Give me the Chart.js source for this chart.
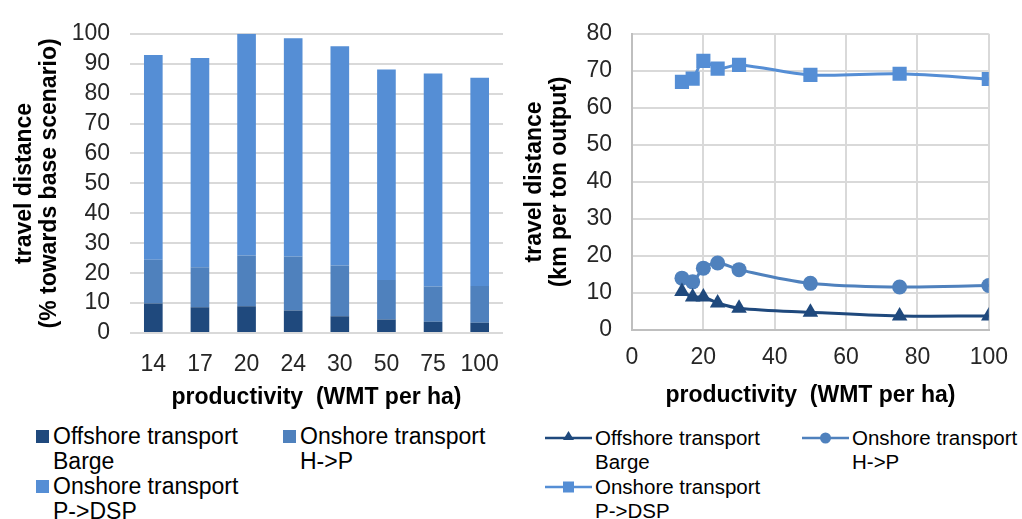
<!DOCTYPE html>
<html>
<head>
<meta charset="utf-8">
<script src="https://cdn.jsdelivr.net/npm/chart.js@4/dist/chart.umd.min.js"></script>
<style>
  body { margin: 0; background: #fff; font-family: "Liberation Sans", Arial, sans-serif; }
  #wrap { position: relative; width: 1022px; height: 519px; overflow: hidden; }
  canvas { position: absolute; top: 0; }
  .legend { position: absolute; display: grid; color: #000; white-space: nowrap; }
  .item { display: flex; align-items: flex-start; }
  #legendLeft { left: 36px; top: 424px; grid-template-columns: 247px 200px; grid-auto-rows: 50px; font-size: 23px; line-height: 25px; }
  #legendLeft .sym { width: 13px; height: 13px; margin: 6px 4px 0 0; flex: none; }
  #legendRight { left: 545px; top: 426px; grid-template-columns: 257px 200px; grid-auto-rows: 49px; font-size: 20.5px; line-height: 24px; }
  #legendRight svg { flex: none; margin-right: 3px; }
</style>
</head>
<body>
<div id="wrap">
  <canvas id="barChart" width="511" height="420" style="left:0"></canvas>
  <canvas id="lineChart" width="511" height="420" style="left:511px"></canvas>
  <div id="legendLeft" class="legend"></div>
  <div id="legendRight" class="legend"></div>
</div>
<script>
// categories / x values
const productivity = ['14', '17', '20', '24', '30', '50', '75', '100'];
const productivityX = [14, 17, 20, 24, 30, 50, 75, 100];

// left chart: % towards base scenario
const offshoreShare = [9.9, 8.6, 8.9, 7.5, 5.6, 4.5, 3.8, 3.4];
const onshoreHPShare = [14.6, 13.4, 17.0, 18.1, 17.0, 13.2, 11.7, 12.3];
const onshorePDShare = [68.4, 69.9, 74.1, 72.9, 73.2, 70.4, 71.2, 69.6];

// right chart: km per ton output
const offshoreKm = [10.4, 8.9, 8.9, 7.3, 5.9, 4.8, 3.8, 3.8];
const onshoreHPKm = [14.0, 13.0, 16.7, 18.1, 16.3, 12.6, 11.6, 12.0];
const onshorePDKm = [67.0, 67.9, 72.7, 70.6, 71.6, 68.9, 69.2, 67.8];

const yTicksLeft = [0, 100, 10];
const yTicksRight = [0, 80, 10];
const xTicksRight = [0, 100, 20];

const seriesNames = [
    ['Offshore transport', 'Barge'],
    ['Onshore transport', 'H->P'],
    ['Onshore transport', 'P->DSP']
];

const colors = ['#1f497d', '#4f81bd', '#558ed5'];
const markers = ['triangle', 'circle', 'rect'];

Chart.defaults.font.family = '"Liberation Sans", Arial, sans-serif';
Chart.defaults.font.size = 23;
Chart.defaults.color = '#262626';

const titleFont = {weight: 'bold', size: 23, lineHeight: 1.1};
const gridStyle = {color: '#d9d9d9', lineWidth: 2, drawTicks: false};

new Chart(document.getElementById('barChart'), {
    type: 'bar',
    data: {
        labels: productivity,
        datasets: [offshoreShare, onshoreHPShare, onshorePDShare].map((d, i) => ({
            label: seriesNames[i].join(' '),
            data: d,
            backgroundColor: colors[i]
        }))
    },
    options: {
        responsive: false,
        animation: false,
        layout: {padding: {top: 28, right: 8, left: 0, bottom: 0}},
        plugins: {legend: {display: false}, tooltip: {enabled: false}},
        datasets: {bar: {categoryPercentage: 1, barPercentage: 0.4}},
        scales: {
            x: {
                stacked: true,
                grid: {display: false},
                border: {display: false},
                ticks: {padding: 10, maxRotation: 0, autoSkip: false},
                title: {display: true, text: 'productivity  (WMT per ha)', color: '#000', font: titleFont, padding: {top: 0, bottom: 10}},
                afterFit: s => { s.height = 87; }
            },
            y: {
                stacked: true,
                min: yTicksLeft[0],
                max: yTicksLeft[1],
                ticks: {stepSize: yTicksLeft[2], padding: 20, autoSkip: false},
                grid: gridStyle,
                border: {display: false},
                title: {display: true, text: ['travel distance', '(% towards base scenario)'], color: '#000', font: titleFont, padding: {top: 12, bottom: 0}},
                afterFit: s => { s.width = 130; }
            }
        }
    }
});

new Chart(document.getElementById('lineChart'), {
    type: 'line',
    data: {
        datasets: [offshoreKm, onshoreHPKm, onshorePDKm].map((d, i) => ({
            label: seriesNames[i].join(' '),
            data: productivityX.map((x, j) => ({x: x, y: d[j]})),
            borderColor: colors[i],
            backgroundColor: colors[i],
            pointStyle: markers[i],
            pointRadius: [9, 7.5, 10][i],
            pointBorderWidth: 0,
            borderWidth: 3,
            tension: 0.35
        }))
    },
    options: {
        responsive: false,
        animation: false,
        layout: {padding: {top: 23, right: 20, left: 0, bottom: 0}},
        plugins: {legend: {display: false}, tooltip: {enabled: false}},
        scales: {
            x: {
                type: 'linear',
                min: xTicksRight[0],
                max: xTicksRight[1],
                ticks: {stepSize: xTicksRight[2], padding: 14, autoSkip: false},
                grid: gridStyle,
                border: {color: '#bfbfbf', width: 2},
                title: {display: true, text: 'productivity  (WMT per ha)', color: '#000', font: titleFont, padding: {top: 0, bottom: 12}},
                afterFit: s => { s.height = 90; }
            },
            y: {
                min: yTicksRight[0],
                max: yTicksRight[1],
                ticks: {stepSize: yTicksRight[2], padding: 20, autoSkip: false},
                grid: gridStyle,
                border: {color: '#bfbfbf', width: 2},
                title: {display: true, text: ['travel distance', '(km per ton output)'], color: '#000', font: titleFont, padding: {top: 11, bottom: 0}},
                afterFit: s => { s.width = 121; }
            }
        }
    }
});

// legends (Excel-like, two-line labels)
function markerSvg(kind, color) {
    let m = '';
    if (kind === 'triangle') m = `<polygon points="23.5,5 29,14 18,14" fill="${color}"/>`;
    if (kind === 'circle') m = `<circle cx="23.5" cy="12" r="5.5" fill="${color}"/>`;
    if (kind === 'rect') m = `<rect x="18" y="6.5" width="11" height="11" fill="${color}"/>`;
    return `<svg width="47" height="24"><line x1="0" y1="12" x2="47" y2="12" stroke="${color}" stroke-width="2.5"/>${m}</svg>`;
}

const legLeft = document.getElementById('legendLeft');
const legRight = document.getElementById('legendRight');
seriesNames.forEach((name, i) => {
    legLeft.innerHTML += `<div class="item"><div class="sym" style="background:${colors[i]}"></div><div>${name.map(t => t.replace('>', '&gt;')).join('<br>')}</div></div>`;
    legRight.innerHTML += `<div class="item">${markerSvg(markers[i], colors[i])}<div>${name.map(t => t.replace('>', '&gt;')).join('<br>')}</div></div>`;
});
</script>
</body>
</html>
